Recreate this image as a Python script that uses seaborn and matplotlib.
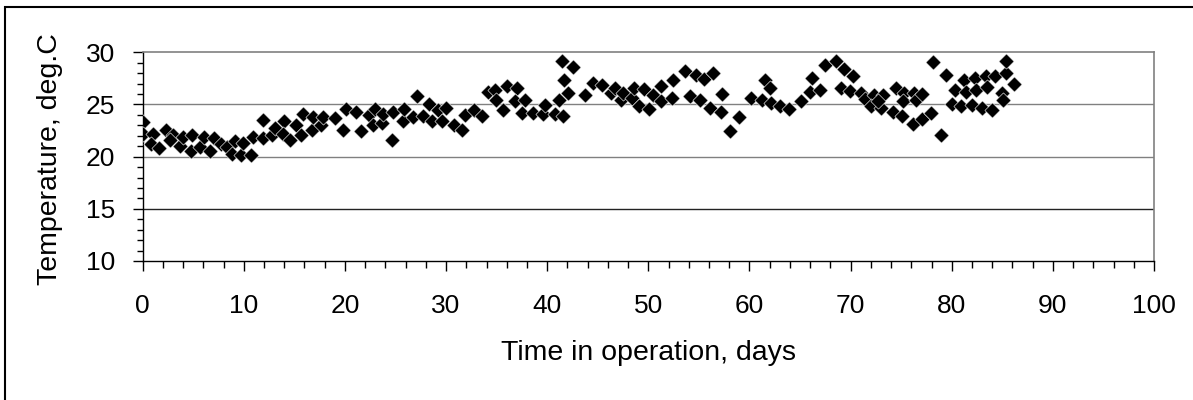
import numpy as np
import pandas as pd
import seaborn as sns
import matplotlib.pyplot as plt
from matplotlib.patches import Rectangle
from matplotlib.ticker import MultipleLocator

# Datos
days = [0.06, 0.0, 1.05, 0.8, 1.6, 2.3, 2.96, 2.7, 3.7, 3.95, 4.84, 4.74, 5.66, 6.06,
        6.65, 7.05, 7.7, 8.3, 8.8, 9.1, 9.7, 9.95, 10.7, 10.9, 11.9, 11.9, 12.75, 13.1,
        14.0, 13.9, 14.6, 15.15, 15.7, 15.9, 16.7, 16.8, 17.6, 17.8, 19.0, 19.8, 20.1,
        21.1, 21.6, 22.4, 22.95, 22.8, 23.7, 23.8, 24.8, 24.7, 25.75, 25.8, 26.7, 27.1,
        27.7, 28.3, 28.65, 29.2, 29.6, 30.0, 30.8,
        31.6, 31.85, 32.8, 33.6, 34.15, 34.8, 34.9, 35.6, 36.0, 37.0, 36.8, 37.8, 37.5,
        38.6, 39.6, 39.75, 40.75, 41.2, 41.6, 41.5, 42.55, 41.7, 42.1, 43.7, 44.5, 45.45,
        46.3, 46.7, 47.3, 47.5, 48.4, 48.6, 49.1, 49.6, 50.1, 50.45, 51.3, 51.3, 52.3,
        52.4, 53.6, 54.7, 54.1, 55.1, 55.5, 56.4, 56.1, 57.2, 57.3, 58.1, 59.0, 60.2,
        61.2, 61.5, 62.0,
        62.15, 63.0, 63.95, 65.1, 66.0, 66.2, 67.0, 67.5, 68.6, 69.3, 69.1, 70.2, 69.96,
        71.05, 71.4, 72.3, 72.0, 73.2, 73.0, 72.7, 74.2, 74.5, 75.1, 75.3, 75.2, 76.15,
        76.3, 76.5, 77.1, 77.1, 77.95, 78.1, 78.95, 79.4, 80.0, 80.3, 80.9, 81.25, 81.4,
        82.0, 82.3, 82.4, 83.0, 83.4, 83.45, 84.0, 84.3, 85.0, 85.1, 85.4, 85.4, 86.2]
temps = [23.3, 22.2, 22.2, 21.2, 20.8, 22.6, 22.1, 21.6, 21.0, 21.9, 22.1, 20.5, 20.9, 21.9,
         20.5, 21.8, 21.2, 20.9, 20.3, 21.5, 20.2, 21.3, 20.2, 21.9, 21.8, 23.5, 22.1, 22.7,
         23.4, 22.2, 21.6, 23.0, 22.1, 24.1, 22.6, 23.8, 23.0, 23.8, 23.7, 22.6, 24.6,
         24.3, 22.5, 24.0, 24.6, 23.0, 23.2, 24.1, 24.3, 21.6, 23.4, 24.6, 23.8, 25.8,
         23.9, 25.05, 23.4, 24.5, 23.45, 24.7, 23.0,
         22.6, 24.0, 24.5, 23.9, 26.2, 26.4, 25.4, 24.5, 26.8, 26.55, 25.3, 25.4, 24.2,
         24.2, 24.1, 24.95, 24.1, 25.4, 23.9, 29.2, 28.6, 27.3, 26.1, 25.9, 27.1, 26.9,
         26.1, 26.55, 25.4, 26.1, 25.6, 26.55, 24.9, 26.45, 24.6, 25.9, 25.3, 26.8, 25.6,
         27.3, 28.2, 27.8, 25.8, 25.4, 27.4, 28.0, 24.7, 24.3, 26.0, 22.5, 23.8, 25.6,
         25.4, 27.3, 26.55,
         25.1, 24.9, 24.6, 25.3, 26.2, 27.5, 26.4, 28.8, 29.2, 28.4, 26.55, 27.7, 26.3,
         26.1, 25.5, 25.9, 24.9, 25.9, 24.7, 25.3, 24.3, 26.55, 23.9, 26.1, 25.3, 23.1,
         26.1, 25.4, 26.0, 23.6, 24.2, 29.1, 22.1, 27.8, 25.05, 26.4, 24.9, 27.3, 26.2,
         24.95, 27.5, 26.4, 24.7, 27.7, 26.7, 24.5, 27.7, 26.1, 25.4, 28.0, 29.2, 27.0]

data = pd.DataFrame({'Time': days, 'Temp': temps})

sns.set_style('white')
plt.rcParams['font.family'] = ['Liberation Sans', 'DejaVu Sans']
plt.rcParams['text.color'] = 'black'
plt.rcParams['axes.labelcolor'] = 'black'
plt.rcParams['xtick.color'] = 'black'
plt.rcParams['ytick.color'] = 'black'

fig = plt.figure(figsize=(11.93, 4.0), dpi=100)
ax = fig.add_axes([0.1196, 0.3475, 0.8477, 0.5217])

sns.scatterplot(data=data, x='Time', y='Temp', marker='D', color='black', s=60,
                edgecolor='white', linewidth=0.4, ax=ax, zorder=3)

ax.set_xlim(0, 100)
ax.set_ylim(10, 30)
ax.xaxis.set_major_locator(MultipleLocator(10))
ax.xaxis.set_minor_locator(MultipleLocator(2))
ax.yaxis.set_major_locator(MultipleLocator(5))
ax.yaxis.set_minor_locator(MultipleLocator(1))

# lineas de la rejilla
ax.axhline(15, color='#222222', lw=1.0, zorder=1)
for yv in [20, 25]:
    ax.axhline(yv, color='#808080', lw=1.0, zorder=1)

for s in ['top', 'right']:
    ax.spines[s].set_color('#808080')
    ax.spines[s].set_linewidth(1.2)
for s in ['left', 'bottom']:
    ax.spines[s].set_color('black')
    ax.spines[s].set_linewidth(1.0)

ax.tick_params(axis='both', which='both', direction='out', color='black',
               labelcolor='black', labelsize=19)
ax.tick_params(axis='x', which='major', length=7, width=1.0, pad=17, bottom=True)
ax.tick_params(axis='x', which='minor', length=5, width=1.0, bottom=True)
ax.tick_params(axis='y', which='major', length=7, width=1.0, pad=13, left=True)
ax.tick_params(axis='y', which='minor', length=4.5, width=1.0, left=True)

ax.set_xlabel('Time in operation, days', fontsize=20.5, color='black')
ax.set_ylabel('Temperature, deg.C', fontsize=20.5, color='black')
ax.xaxis.set_label_coords(0.5, -0.38)
ax.yaxis.set_label_coords(-0.079, 0.49)

# marco de la figura
fig.patches.append(Rectangle((5 / 1193, -0.1), 1.2, 1.1 - 6.5 / 400, transform=fig.transFigure,
                             fill=False, edgecolor='black', linewidth=1.5))

fig.savefig('out.png', dpi=100)
